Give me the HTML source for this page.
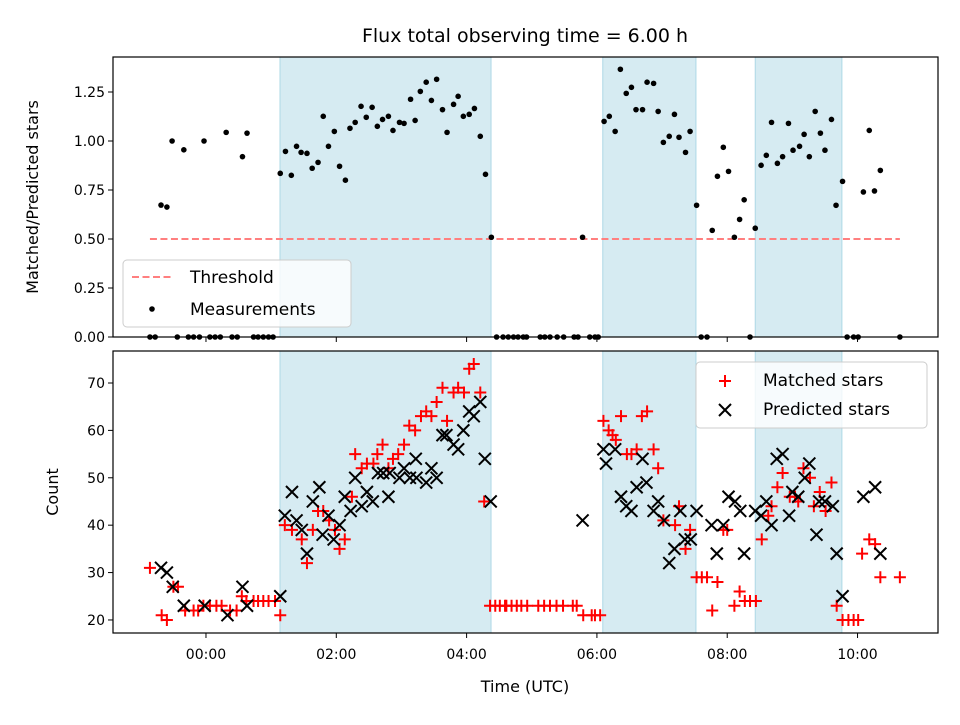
<!DOCTYPE html>
<html><head><meta charset="utf-8"><style>
body{margin:0;background:#fff}
svg text{font-family:"DejaVu Sans","Liberation Sans",sans-serif;fill:#000}
</style></head><body>
<svg id="c" width="960" height="720" viewBox="0 0 960 720" xmlns="http://www.w3.org/2000/svg"></svg>
<script>
const ratioT=[-0.69,-0.60,-0.52,-0.34,-0.03,0.31,0.56,0.63,1.14,1.22,1.31,1.39,1.46,1.55,1.63,1.72,1.80,1.88,1.97,2.05,2.14,2.21,2.29,2.38,2.46,2.55,2.63,2.71,2.80,2.87,2.97,3.04,3.14,3.21,3.29,3.38,3.46,3.54,3.63,3.70,3.80,3.87,3.95,4.04,4.12,4.21,4.29,4.38,5.78,6.11,6.19,6.28,6.36,6.45,6.53,6.60,6.70,6.77,6.87,6.94,7.02,7.11,7.19,7.26,7.36,7.43,7.53,7.77,7.85,7.94,8.02,8.11,8.19,8.26,8.43,8.52,8.60,8.68,8.77,8.85,8.94,9.01,9.11,9.18,9.26,9.35,9.43,9.50,9.60,9.67,9.77,10.09,10.18,10.26,10.35];
const ratioV=[0.673,0.663,1.00,0.955,1.00,1.044,0.92,1.04,0.835,0.947,0.825,0.973,0.942,0.937,0.861,0.891,1.126,0.973,1.049,0.871,0.80,1.065,1.095,1.177,1.121,1.172,1.075,1.11,1.126,1.054,1.095,1.09,1.213,1.105,1.253,1.30,1.207,1.315,1.16,1.044,1.187,1.228,1.126,1.136,1.166,1.024,0.83,0.509,0.509,1.10,1.126,1.049,1.366,1.243,1.274,1.16,1.16,1.30,1.294,1.151,0.993,1.024,1.136,1.019,0.942,1.049,0.672,0.544,0.82,0.968,0.845,0.509,0.60,0.70,0.555,0.876,0.927,1.095,0.886,0.92,1.09,0.953,0.973,1.034,0.92,1.151,1.04,0.953,1.11,0.672,0.794,0.74,1.054,0.745,0.85];
const zeroT=[-0.86,-0.78,-0.44,-0.27,-0.19,-0.10,0.06,0.14,0.22,0.40,0.48,0.73,0.80,0.88,0.96,1.03,4.46,4.56,4.64,4.72,4.79,4.87,4.92,5.13,5.20,5.28,5.39,5.49,5.65,5.71,5.89,5.97,6.02,7.60,7.69,8.35,9.84,9.94,10.01,10.65];
const matchedT=[-0.86,-0.68,-0.60,-0.50,-0.43,-0.32,-0.19,-0.12,-0.04,0.06,0.16,0.24,0.37,0.47,0.55,0.62,0.73,0.80,0.88,0.96,1.06,1.14,1.21,1.32,1.47,1.55,1.64,1.72,1.80,1.89,1.98,2.05,2.13,2.24,2.29,2.39,2.47,2.57,2.63,2.71,2.80,2.87,2.95,3.04,3.12,3.21,3.30,3.38,3.46,3.54,3.63,3.70,3.80,3.87,3.96,4.04,4.11,4.21,4.27,4.36,4.44,4.51,4.59,4.61,4.69,4.77,4.84,4.93,5.10,5.19,5.28,5.38,5.48,5.63,5.69,5.79,5.92,5.97,6.05,6.10,6.18,6.24,6.29,6.37,6.46,6.53,6.61,6.69,6.77,6.87,6.94,7.02,7.20,7.26,7.36,7.43,7.53,7.61,7.69,7.77,7.85,7.94,8.00,8.11,8.19,8.27,8.35,8.44,8.53,8.63,8.68,8.77,8.85,8.96,9.04,9.09,9.17,9.27,9.33,9.42,9.51,9.60,9.68,9.77,9.86,9.94,10.01,10.07,10.18,10.27,10.35,10.65];
const matchedV=[31,21,20,27,27,22,22,22,23,23,23,23,22,22,25,24,24,24,24,24,24,21,40,39,37,32,39,43,43,41,39,35,37,46,55,52,53,53,55,57,52,54,55,57,61,60,63,64,63,66,69,62,68,69,68,73,74,68,45,23,23,23,23,23,23,23,23,23,23,23,23,23,23,23,23,21,21,21,21,62,60,59,58,63,55,55,56,63,64,56,52,41,40,44,35,39,29,29,29,22,28,39,39,23,26,24,24,24,37,42,44,48,51,46,46,45,52,50,44,47,43,49,23,20,20,20,20,34,37,36,29,29];
const predT=[-0.69,-0.60,-0.51,-0.34,-0.02,0.33,0.56,0.63,1.14,1.21,1.32,1.39,1.47,1.55,1.64,1.74,1.79,1.88,1.96,2.05,2.13,2.22,2.29,2.39,2.47,2.56,2.64,2.72,2.80,2.82,2.97,3.04,3.13,3.22,3.23,3.38,3.46,3.54,3.63,3.69,3.80,3.87,3.95,4.04,4.11,4.21,4.28,4.37,5.78,6.10,6.14,6.28,6.37,6.45,6.53,6.61,6.70,6.76,6.87,6.94,7.03,7.11,7.19,7.28,7.35,7.44,7.53,7.76,7.84,7.94,8.02,8.12,8.20,8.26,8.43,8.52,8.60,8.68,8.76,8.85,8.95,9.00,9.09,9.19,9.26,9.37,9.41,9.50,9.62,9.68,9.77,10.09,10.27,10.35];
const predV=[31,30,27,23,23,21,27,23,25,42,47,41,39,34,45,48,38,42,37,40,46,43,50,44,47,45,51,51,46,51,50,52,50,54,50,49,52,50,59,59,57,56,60,64,63,66,54,45,41,56,53,56,46,44,43,48,54,49,43,45,41,32,35,43,37,37,43,40,34,40,46,45,43,34,43,42,45,40,54,55,42,47,46,50,53,38,45,45,44,34,25,46,48,34];
const spans=[[1.136,4.375],[6.09,7.52],[8.43,9.76]];
const xTicks=[0,2,4,6,8,10];
const xTickLabels=["00:00","02:00","04:00","06:00","08:00","10:00"];
const topTicks=[0,0.25,0.5,0.75,1.0,1.25];
const botTicks=[20,30,40,50,60,70];
const threshold=0.5, thrStart=-0.86, thrEnd=10.65;

const svg=document.getElementById('c');
const NS='http://www.w3.org/2000/svg';
function mk(tag,attrs,parent){const e=document.createElementNS(NS,tag);for(const k in attrs)e.setAttribute(k,attrs[k]);(parent||svg).appendChild(e);return e;}
const X0=113,X1=938,xmin=-1.427,xmax=11.235;
const sx=v=>X0+(v-xmin)/(xmax-xmin)*(X1-X0);
const T={y0:57,y1:337,min:0,max:1.4286};
const B={y0:351,y1:633,min:17.25,max:76.75};
const sy=(a,v)=>a.y1-(v-a.min)/(a.max-a.min)*(a.y1-a.y0);

let t=mk('text',{x:525,y:42,'font-size':'19','text-anchor':'middle'});


t.textContent='Flux total observing time = 6.00 h';

function panel(a,name){
  const g=mk('g',{});
  
  
  for(const s of spans){
    const r=mk('rect',{x:sx(s[0]),y:a.y0,width:sx(s[1])-sx(s[0]),height:a.y1-a.y0,fill:'#add8e6','fill-opacity':0.5,stroke:'#add8e6','stroke-width':1},g);
    
    
  }
  return g;
}
function frame(a,g){
  const r=mk('rect',{x:X0,y:a.y0,width:X1-X0,height:a.y1-a.y0,fill:'none',stroke:'#000','stroke-width':1.2},g);
  
  
  for(const v of xTicks){mk('line',{x1:sx(v),x2:sx(v),y1:a.y1,y2:a.y1+5,stroke:'#000','stroke-width':1},g);}
}
function yticks(a,ticks,fmt,g){
  for(const v of ticks){
    const y=sy(a,v);
    mk('line',{x1:X0-5,x2:X0,y1:y,y2:y,stroke:'#000','stroke-width':1},g);
    const l=mk('text',{x:X0-8,y:y+5,'font-size':'14','text-anchor':'end'},g);
    
    
    l.textContent=fmt(v);
  }
}
// top panel
const gt=panel(T,'ratio-panel');
const thr=mk('line',{x1:sx(thrStart),x2:sx(thrEnd),y1:sy(T,threshold),y2:sy(T,threshold),stroke:'#ff7f7f','stroke-width':2,'stroke-dasharray':'7,3.5'},gt);


ratioT.forEach((v,i)=>{const c=mk('circle',{cx:sx(v),cy:sy(T,ratioV[i]),r:2.8,fill:'#000'},gt);

});
zeroT.forEach(v=>{const c=mk('circle',{cx:sx(v),cy:sy(T,0),r:2.8,fill:'#000'},gt);

});
frame(T,gt);
yticks(T,topTicks,v=>v.toFixed(2),gt);
let yl=mk('text',{x:0,y:0,'font-size':'16','text-anchor':'middle',transform:'translate(38,197) rotate(-90)'});


yl.textContent='Matched/Predicted stars';
// top legend
const lg1=mk('g',{});


mk('rect',{x:123,y:260,width:228,height:67,rx:4,fill:'#fff','fill-opacity':0.8,stroke:'#ccc'},lg1);
mk('line',{x1:132,x2:172,y1:277,y2:277,stroke:'#ff7f7f','stroke-width':2,'stroke-dasharray':'7,3.5'},lg1);
mk('circle',{cx:152,cy:309,r:2.8,fill:'#000'},lg1);
let a1=mk('text',{x:190,y:283,'font-size':'17'},lg1);a1.textContent='Threshold';


let a2=mk('text',{x:190,y:315,'font-size':'17'},lg1);a2.textContent='Measurements';



// bottom panel
const gb=panel(B,'count-panel');
function plus(x,y,g){const p=mk('path',{d:`M${x-6} ${y}H${x+6}M${x} ${y-6}V${y+6}`,stroke:'#ff0000','stroke-width':2},g);return p;}
function cross(x,y,g){const p=mk('path',{d:`M${x-6} ${y-6}L${x+6} ${y+6}M${x-6} ${y+6}L${x+6} ${y-6}`,stroke:'#000','stroke-width':2},g);return p;}
matchedT.forEach((v,i)=>{const p=plus(sx(v),sy(B,matchedV[i]),gb);

});
predT.forEach((v,i)=>{const p=cross(sx(v),sy(B,predV[i]),gb);

});
frame(B,gb);
yticks(B,botTicks,v=>String(v),gb);
xTicks.forEach((v,i)=>{const l=mk('text',{x:sx(v),y:659,'font-size':'14','text-anchor':'middle'},gb);


l.textContent=xTickLabels[i];});
let xl=mk('text',{x:525,y:692,'font-size':'16','text-anchor':'middle'});


xl.textContent='Time (UTC)';
let yl2=mk('text',{x:0,y:0,'font-size':'16','text-anchor':'middle',transform:'translate(58,492) rotate(-90)'});


yl2.textContent='Count';
const lg2=mk('g',{});


mk('rect',{x:696,y:362,width:231,height:66,rx:4,fill:'#fff','fill-opacity':0.8,stroke:'#ccc'},lg2);
plus(725,381,lg2);cross(725,410,lg2);
let b1=mk('text',{x:763,y:386,'font-size':'17'},lg2);b1.textContent='Matched stars';


let b2=mk('text',{x:763,y:415,'font-size':'17'},lg2);b2.textContent='Predicted stars';


</script>
</body></html>
